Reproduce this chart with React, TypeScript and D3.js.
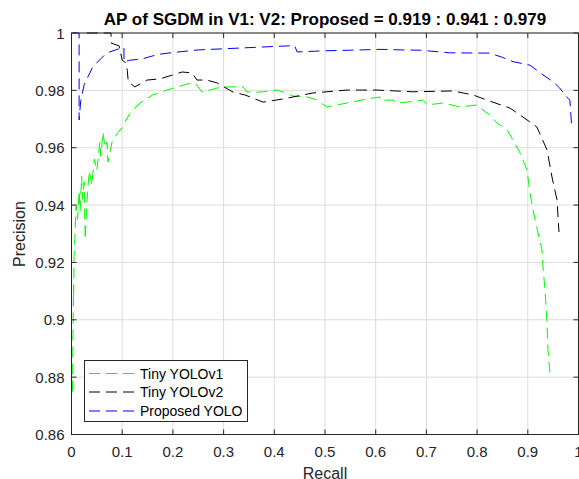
import React from "react";
import * as d3 from "d3";

const title = "AP of SGDM in V1: V2: Proposed = 0.919 : 0.941 : 0.979";
const xTicks = [0, 0.1, 0.2, 0.3, 0.4, 0.5, 0.6, 0.7, 0.8, 0.9, 1];
const yTicks = [0.86, 0.88, 0.9, 0.92, 0.94, 0.96, 0.98, 1];
const seriesNames = ["Tiny YOLOv1", "Tiny YOLOv2", "Proposed YOLO"];
const seriesColors = ["#00ff00", "#000000", "#0000ff"];

const recallV1 = [0.002, 0.003, 0.004, 0.004, 0.005, 0.007, 0.009, 0.012, 0.015, 0.017, 0.02, 0.022, 0.025, 0.027, 0.03, 0.035, 0.04, 0.045, 0.05, 0.056, 0.058, 0.062, 0.066, 0.07, 0.072, 0.08, 0.09, 0.1, 0.115, 0.135, 0.16, 0.188, 0.228, 0.2436, 0.2574, 0.287, 0.3067, 0.3383, 0.3462, 0.372, 0.4053, 0.425, 0.4369, 0.4645, 0.4842, 0.504, 0.5434, 0.583, 0.6085, 0.6085, 0.634, 0.642, 0.6617, 0.693, 0.701, 0.7327, 0.7663, 0.7998, 0.8116, 0.8254, 0.8393, 0.859, 0.8708, 0.8846, 0.8984, 0.9043, 0.9102, 0.9201, 0.928, 0.93, 0.9339, 0.9379, 0.9398, 0.9438, 0.9497];
const precisionV1 = [0.875, 0.895, 0.912, 0.905, 0.922, 0.93, 0.94, 0.935, 0.945, 0.938, 0.95, 0.942, 0.948, 0.928, 0.94, 0.952, 0.947, 0.956, 0.952, 0.962, 0.957, 0.9655, 0.96, 0.962, 0.955, 0.962, 0.965, 0.967, 0.972, 0.9756, 0.9784, 0.9801, 0.9822, 0.9826, 0.9794, 0.9808, 0.9812, 0.9812, 0.9794, 0.9794, 0.9801, 0.979, 0.978, 0.9777, 0.9766, 0.9742, 0.9756, 0.977, 0.9777, 0.9766, 0.9766, 0.9756, 0.9759, 0.9766, 0.9749, 0.9756, 0.9742, 0.9749, 0.9731, 0.9714, 0.9686, 0.9662, 0.9627, 0.9582, 0.9522, 0.9442, 0.9383, 0.9303, 0.9243, 0.9184, 0.9104, 0.8989, 0.8895, 0.8808, 0.8808];

const recallV2 = [0.03, 0.078, 0.078, 0.094, 0.1, 0.108, 0.11, 0.112, 0.125, 0.149, 0.1746, 0.2002, 0.218, 0.2377, 0.2475, 0.267, 0.287, 0.3185, 0.342, 0.378, 0.417, 0.437, 0.4763, 0.5434, 0.6026, 0.6736, 0.7525, 0.7919, 0.8195, 0.865, 0.8984, 0.918, 0.938, 0.9477, 0.9576, 0.9615];
const precisionV2 = [1.0, 1.0, 0.9965, 0.9955, 0.9905, 0.9895, 0.987, 0.983, 0.9812, 0.9836, 0.984, 0.9854, 0.9864, 0.9861, 0.9836, 0.9836, 0.9826, 0.9794, 0.9784, 0.9759, 0.977, 0.9777, 0.9791, 0.9801, 0.9801, 0.9795, 0.9798, 0.9784, 0.9766, 0.9738, 0.9697, 0.9672, 0.9592, 0.9498, 0.9418, 0.9306];

const recallProp = [0.004, 0.015, 0.015, 0.018, 0.025, 0.042, 0.069, 0.092, 0.1, 0.1035, 0.1035, 0.115, 0.14, 0.17, 0.2, 0.25, 0.3, 0.35, 0.4, 0.44, 0.445, 0.5, 0.55, 0.6085, 0.65, 0.687, 0.746, 0.8, 0.825, 0.85, 0.871, 0.904, 0.93, 0.95, 0.963, 0.975, 0.983, 0.9866];
const precisionProp = [1.0, 1.0, 0.9697, 0.976, 0.982, 0.9882, 0.993, 0.9944, 0.9951, 0.9951, 0.9899, 0.9905, 0.991, 0.9925, 0.9932, 0.9941, 0.9945, 0.9949, 0.9953, 0.9956, 0.9934, 0.9938, 0.994, 0.9943, 0.9941, 0.994, 0.9931, 0.993, 0.993, 0.9915, 0.99, 0.9888, 0.9854, 0.983, 0.9808, 0.978, 0.9766, 0.9673];

const W = 579;
const H = 479;
const left = 71.5;
const right = 578.5;
const top = 33;
const bottom = 434.5;
const axisColor = "#262626";
const font = "'Liberation Sans', Arial, Helvetica, sans-serif";

export default function App() {
  const x = d3.scaleLinear().domain([0, 1]).range([left, right]);
  const y = d3.scaleLinear().domain([0.86, 1]).range([bottom, top]);
  const line = d3
    .line<[number, number]>()
    .x((d) => x(d[0]))
    .y((d) => y(d[1]));

  const series = [
    recallV1.map((r, i) => [r, precisionV1[i]] as [number, number]),
    recallV2.map((r, i) => [r, precisionV2[i]] as [number, number]),
    recallProp.map((r, i) => [r, precisionProp[i]] as [number, number]),
  ];

  const legX = 84.5;
  const legY = 360.5;
  const legW = 163;
  const legH = 61;
  const rowY = [373.5, 392, 411];

  return (
    <div style={{ position: "fixed", left: 0, top: 0, width: W, height: H, background: "#fff" }}>
      <svg width={W} height={H} style={{ display: "block" }} fontFamily={font}>
        <rect x={0} y={0} width={W} height={H} fill="#fff" />
        {xTicks.map((t) => (
          <line key={"gx" + t} x1={x(t)} x2={x(t)} y1={top} y2={bottom} stroke="#dcdcdc" strokeWidth={1} />
        ))}
        {yTicks.map((t) => (
          <line key={"gy" + t} x1={left} x2={right} y1={y(t)} y2={y(t)} stroke="#dcdcdc" strokeWidth={1} />
        ))}
        <g>
          {series.map((s, i) => (
            <path
              key={"s" + i}
              d={line(s) || ""}
              fill="none"
              stroke={seriesColors[i]}
              strokeWidth={1}
              strokeDasharray="11,6"
            />
          ))}
        </g>
        <rect x={left} y={top} width={right - left} height={bottom - top} fill="none" stroke={axisColor} strokeWidth={1} />
        {xTicks.map((t) => (
          <g key={"tx" + t}>
            <line x1={x(t)} x2={x(t)} y1={bottom} y2={bottom - 5} stroke={axisColor} />
            <line x1={x(t)} x2={x(t)} y1={top} y2={top + 5} stroke={axisColor} />
            <text x={x(t)} y={456.5} fontSize={15} fill={axisColor} textAnchor="middle">
              {d3.format("~g")(t)}
            </text>
          </g>
        ))}
        {yTicks.map((t) => (
          <g key={"ty" + t}>
            <line x1={left} x2={left + 5} y1={y(t)} y2={y(t)} stroke={axisColor} />
            <line x1={right} x2={right - 5} y1={y(t)} y2={y(t)} stroke={axisColor} />
            <text x={64.5} y={y(t) + 5.5} fontSize={15} fill={axisColor} textAnchor="end">
              {d3.format("~g")(t)}
            </text>
          </g>
        ))}
        <text x={(left + right) / 2} y={25} fontSize={17} fontWeight="bold" fill="#000" textAnchor="middle">
          {title}
        </text>
        <text x={(left + right) / 2} y={478.5} fontSize={16} fill={axisColor} textAnchor="middle">
          Recall
        </text>
        <text transform={`translate(25,234) rotate(-90)`} fontSize={16} fill={axisColor} textAnchor="middle">
          Precision
        </text>
        <rect x={legX} y={legY} width={legW} height={legH} fill="#fff" stroke="#262626" strokeWidth={1} />
        {seriesNames.map((n, i) => (
          <g key={"l" + i}>
            <line
              x1={89}
              x2={136}
              y1={rowY[i]}
              y2={rowY[i]}
              stroke={seriesColors[i]}
              strokeWidth={1}
              strokeDasharray="11,6"
            />
            <text x={140} y={rowY[i] + 5} fontSize={14} fill="#000">
              {n}
            </text>
          </g>
        ))}
      </svg>
    </div>
  );
}
